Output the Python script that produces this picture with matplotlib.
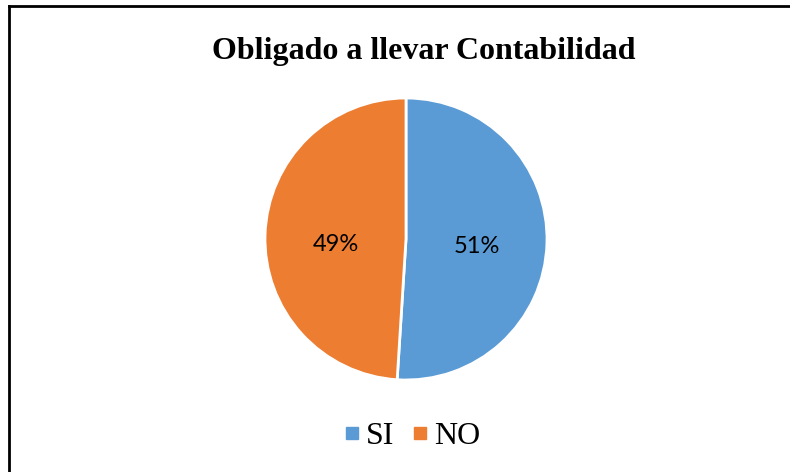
import matplotlib.pyplot as plt
from matplotlib.lines import Line2D

# === Data ===
labels = ['SI', 'NO']
values = [51, 49]
colors = ['#5B9BD5', '#ED7D31']
title = 'Obligado a llevar Contabilidad'

fig = plt.figure(figsize=(7.9, 4.72), dpi=100)

# pie axes: 282 px square centred at (406, 239)
ax = fig.add_axes([(406 - 141) / 790, (472 - 239 - 141) / 472, 282 / 790, 282 / 472])
wedges, texts, autotexts = ax.pie(
    values, colors=colors, startangle=90, counterclock=False,
    autopct='%1.0f%%', pctdistance=0.5,
    wedgeprops=dict(edgecolor='white', linewidth=2),
    textprops=dict(fontsize=17, family='Lato', color='black'),
)
# Excel puts the labels a little lower than matplotlib
for t, dy in zip(autotexts, [0.035, 0.055]):
    x, y = t.get_position()
    t.set_position((x, y - dy))
ax.set_xlim(-1, 1)
ax.set_ylim(-1, 1)
ax.set_aspect('equal')

fig.text(424 / 790, 1 - 51 / 472, title, ha='center', va='center',
         fontsize=23, fontweight='bold', family='Liberation Serif')

# legend at bottom
handles = [Line2D([], [], marker='s', linestyle='none', markersize=9,
                  markerfacecolor=c, markeredgecolor=c) for c in colors]
fig.legend(handles, labels, loc='center', bbox_to_anchor=(408 / 790, 1 - 436 / 472),
           ncol=2, frameon=False, handletextpad=-0.05, columnspacing=0.3,
           handlelength=1.0, prop=dict(family='Liberation Serif', size=23))

# chart border (only top and left visible in crop)
fig.add_artist(Line2D([9 / 790, 9 / 790], [0, 1 - 6 / 472], color='black',
                      linewidth=2, transform=fig.transFigure))
fig.add_artist(Line2D([9 / 790, 1], [1 - 6 / 472, 1 - 6 / 472], color='black',
                      linewidth=2, transform=fig.transFigure))

fig.savefig('out.png', dpi=100)
